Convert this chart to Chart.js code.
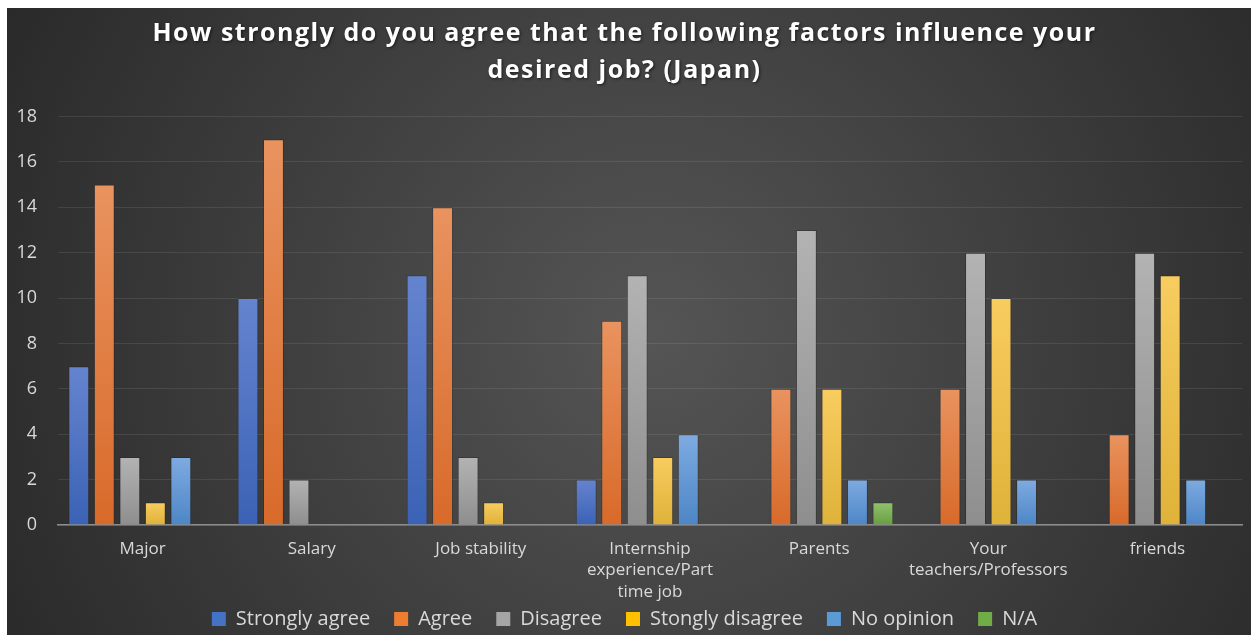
<!DOCTYPE html>
<html>
<head>
<meta charset="utf-8">
<script src="https://cdn.jsdelivr.net/npm/chart.js@4.4.0/dist/chart.umd.min.js"></script>
<style>
  html, body { margin: 0; padding: 0; background: #ffffff; overflow: hidden; }
  #wrap { position: absolute; left: 7px; top: 8px; width: 1244px; height: 627px; }
</style>
</head>
<body>
<div id="wrap"><canvas id="factorsChart"></canvas></div>
<script>
const factors = ['Major', 'Salary', 'Job stability', ['Internship', 'experience/Part', 'time job'], 'Parents', ['Your', 'teachers/Professors'], 'friends'];

const stronglyAgree = [7, 10, 11, 2, 0, 0, 0];
const agree = [15, 17, 14, 9, 6, 6, 4];
const disagree = [3, 2, 3, 11, 13, 12, 12];
const stonglyDisagree = [1, 0, 1, 3, 6, 10, 11];
const noOpinion = [3, 0, 0, 4, 2, 2, 2];
const notApplicable = [0, 0, 0, 0, 1, 0, 0];

const yTicks = [0, 2, 4, 6, 8, 10, 12, 14, 16, 18];

// light top / dark bottom for each series
const palette = [
    { name: 'Strongly agree', top: '#6584cf', bottom: '#3b62b5', solid: '#4472c4', data: stronglyAgree },
    { name: 'Agree', top: '#e9935f', bottom: '#d86a2a', solid: '#ed7d31', data: agree },
    { name: 'Disagree', top: '#b3b3b3', bottom: '#8e8e8e', solid: '#a5a5a5', data: disagree },
    { name: 'Stongly disagree', top: '#f8cc5f', bottom: '#dfb239', solid: '#ffc000', data: stonglyDisagree },
    { name: 'No opinion', top: '#7eabe1', bottom: '#4d86c6', solid: '#5b9bd5', data: noOpinion },
    { name: 'N/A', top: '#91c26c', bottom: '#689e43', solid: '#70ad47', data: notApplicable }
];

function barFill(s) {
    return function (context) {
        const chart = context.chart;
        const y = chart.scales.y;
        if (!y || !chart.chartArea || context.parsed === undefined) return s.solid;
        const top = y.getPixelForValue(context.parsed.y);
        const base = y.getPixelForValue(0);
        if (!isFinite(top) || top === base) return s.solid;
        const g = chart.ctx.createLinearGradient(0, top, 0, base);
        g.addColorStop(0, s.top);
        g.addColorStop(1, s.bottom);
        return g;
    };
}

// dark radial backdrop behind the whole chart
const backdrop = {
    id: 'backdrop',
    // let the multi-line category labels run past the axis box
    afterLayout(chart) {
        chart.scales.x.bottom = chart.height;
    },
    beforeDraw(chart) {
        const { ctx, width, height } = chart;
        const g = ctx.createRadialGradient(width * 0.52, height * 0.52, 0, width * 0.52, height * 0.52, width * 0.62);
        g.addColorStop(0, '#555555');
        g.addColorStop(1, '#272727');
        ctx.save();
        ctx.fillStyle = g;
        ctx.fillRect(0, 0, width, height);
        ctx.restore();
    }
};

const ctx = document.getElementById('factorsChart').getContext('2d');
const chart = new Chart(ctx, {
    type: 'bar',
    data: {
        labels: factors,
        datasets: palette.map(s => ({
            label: s.name,
            data: s.data,
            backgroundColor: barFill(s),
            borderColor: 'rgba(25,25,25,0.3)',
            borderWidth: c => (c.raw ? 1 : 0),
            categoryPercentage: 0.905,
            barPercentage: 0.82
        }))
    },
    options: {
        responsive: true,
        maintainAspectRatio: false,
        animation: false,
        layout: { padding: { left: 0, right: 9, top: 0, bottom: 0 } },
        plugins: {
            title: {
                display: true,
                text: ['How strongly do you agree that the following factors influence your', 'desired job? (Japan)'],
                color: '#ffffff',
                font: { family: 'Open Sans', size: 25, weight: 'bold', lineHeight: 1.45 },
                padding: { top: 8, bottom: 28 }
            },
            legend: {
                display: true,
                position: 'bottom',
                maxHeight: 50,
                labels: {
                    color: '#d9d9d9',
                    font: { family: 'Open Sans', size: 20 },
                    boxWidth: 14,
                    boxHeight: 14,
                    padding: 24,
                    generateLabels: () => palette.map((s, i) => ({
                        text: s.name,
                        fillStyle: s.solid,
                        strokeStyle: s.solid,
                        lineWidth: 0,
                        fontColor: '#d9d9d9',
                        datasetIndex: i
                    }))
                }
            },
            tooltip: { enabled: false }
        },
        scales: {
            x: {
                afterFit: axis => { axis.height = 60; },
                grid: { display: false, drawTicks: false },
                border: { display: true, color: '#8c8c8c', width: 1.5 },
                ticks: {
                    color: '#d9d9d9',
                    font: { family: 'Open Sans', size: 17, lineHeight: 1.24 },
                    padding: 14,
                    maxRotation: 0,
                    autoSkip: false
                }
            },
            y: {
                min: 0,
                max: 18,
                afterBuildTicks: axis => { axis.ticks = yTicks.map(v => ({ value: v })); },
                afterFit: axis => { axis.width = 51; },
                grid: { color: 'rgba(255,255,255,0.09)', drawTicks: false },
                border: { display: false },
                ticks: {
                    color: '#d9d9d9',
                    font: { family: 'Open Sans', size: 18 },
                    padding: 21
                }
            }
        }
    },
    plugins: [backdrop]
});

// wider tracking and a soft shadow on the title
const drawTitle = chart.titleBlock.draw;
chart.titleBlock.draw = function () {
    ctx.save();
    ctx.letterSpacing = '1.5px';
    ctx.shadowColor = 'rgba(0,0,0,0.6)';
    ctx.shadowBlur = 3;
    ctx.shadowOffsetX = 1;
    ctx.shadowOffsetY = 1;
    drawTitle.apply(this, arguments);
    ctx.restore();
};
chart.draw();
</script>
</body>
</html>
